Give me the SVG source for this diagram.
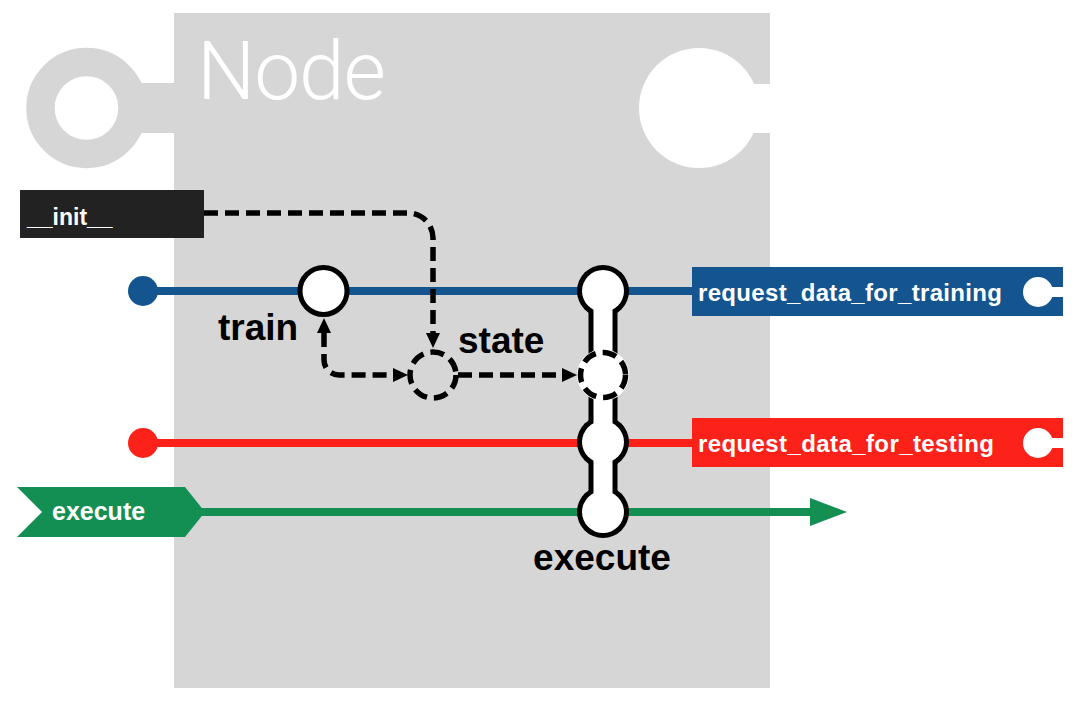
<svg xmlns="http://www.w3.org/2000/svg" width="1077" height="701" viewBox="0 0 1077 701">
  <style>
    .frame { fill: #d6d6d6; }
    .lbl { font-family: "Liberation Sans", Arial, Helvetica, sans-serif; font-weight: bold; }
    .big { font-size: 37px; fill: #000000; }
    .port { font-size: 24px; fill: #ffffff; }
    .dash { fill: none; stroke: #000000; stroke-width: 5.5; stroke-dasharray: 14 7; }
    .flow { fill: none; stroke-width: 8; }
  </style>
  <defs>
    <marker id="arr" markerUnits="userSpaceOnUse" markerWidth="17" markerHeight="15" refX="0" refY="7" orient="auto-start-reverse" viewBox="0 0 17 15">
      <path d="M0,0 L15,7 L0,14 Z" fill="#000000"/>
    </marker>
  </defs>
  <rect width="1077" height="701" fill="#ffffff"/>

  <g id="node-frame">
    <circle cx="86.5" cy="108" r="46" fill="none" stroke="#d6d6d6" stroke-width="28.4"/>
    <rect class="frame" x="130" y="83" width="46" height="50"/>
    <rect class="frame" x="174" y="13" width="596" height="675"/>
    <circle cx="699" cy="108" r="60" fill="#ffffff"/>
    <rect x="752" y="84" width="19" height="49" fill="#ffffff"/>
    <text x="197" y="99" font-family="Roboto, 'Liberation Sans', sans-serif" font-weight="300" font-size="82" fill="#ffffff" textLength="189">Node</text>
  </g>

  <g id="connectors">
    <line class="flow" x1="143" y1="291" x2="692" y2="291" stroke="#14558f"/>
    <line class="flow" x1="143" y1="443" x2="692" y2="443" stroke="#fd2219"/>
    <line class="flow" x1="200" y1="512" x2="811" y2="512" stroke="#138f53"/>
    <polygon points="810,498 847,512 810,526" fill="#138f53"/>
    <circle cx="143" cy="291" r="15" fill="#14558f"/>
    <circle cx="143" cy="443" r="15" fill="#fd2219"/>
    <path class="dash" d="M204,213 H408 A25,25 0 0 1 433,238 V333" marker-end="url(#arr)"/>
    <path class="dash" d="M324,333 V360 A15,15 0 0 0 339,375 H393" marker-start="url(#arr)" marker-end="url(#arr)"/>
    <path class="dash" d="M458,375 H562" marker-end="url(#arr)"/>
  </g>

  <g id="init">
    <rect x="20" y="190" width="184" height="48" fill="#222222"/>
    <text class="lbl" x="27" y="225" font-size="23" fill="#ffffff">__init__</text>
  </g>

  <g id="train">
    <circle cx="323.5" cy="291" r="23.5" fill="#ffffff" stroke="#000000" stroke-width="5"/>
    <text class="lbl big" x="218" y="340">train</text>
  </g>

  <g id="state">
    <circle class="dash" cx="433" cy="375" r="23" stroke-dasharray="12 6"/>
    <text class="lbl big" x="458" y="353">state</text>
  </g>

  <g id="execute">
    <g fill="#000000">
      <circle cx="603" cy="291" r="26"/>
      <circle cx="603" cy="442" r="26"/>
      <circle cx="603" cy="512" r="26"/>
      <rect x="588.5" y="291" width="29" height="221"/>
    </g>
    <g fill="#ffffff">
      <circle cx="603" cy="291" r="21"/>
      <circle cx="603" cy="442" r="21"/>
      <circle cx="603" cy="512" r="21"/>
      <rect x="593.5" y="291" width="19" height="221"/>
      <circle cx="603" cy="375" r="26"/>
    </g>
    <circle class="dash" cx="603" cy="375" r="22.5" stroke-dasharray="12 6"/>
    <text class="lbl big" x="602" y="570" text-anchor="middle">execute</text>
  </g>

  <g id="request-training">
    <rect x="692" y="267" width="371" height="49" fill="#14558f"/>
    <text class="lbl port" x="698" y="301" textLength="304">request_data_for_training</text>
    <circle cx="1038" cy="292" r="15" fill="#ffffff"/>
    <rect x="1045" y="287" width="18" height="10" fill="#ffffff"/>
  </g>

  <g id="request-testing">
    <rect x="692" y="418" width="371" height="49" fill="#fd2219"/>
    <text class="lbl port" x="698" y="452" textLength="296">request_data_for_testing</text>
    <circle cx="1038" cy="443" r="15" fill="#ffffff"/>
    <rect x="1045" y="438" width="18" height="10" fill="#ffffff"/>
  </g>

  <g id="execute-input">
    <polygon points="17,487 185,487 205,512 185,537 17,537 42,512" fill="#138f53"/>
    <text class="lbl port" x="52" y="520" style="font-size:25px">execute</text>
  </g>
</svg>
